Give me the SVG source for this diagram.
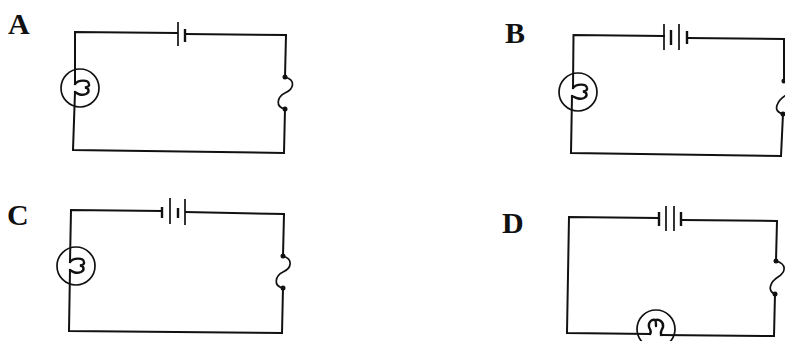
<svg xmlns="http://www.w3.org/2000/svg" width="785" height="341" viewBox="0 0 785 341">
<style>
.w{fill:none;stroke:#111;stroke-width:2;stroke-linecap:square;stroke-linejoin:miter}
.p{fill:none;stroke:#111;stroke-width:1.7}
.t{fill:none;stroke:#111;stroke-width:2.4}
.f{fill:none;stroke:#111;stroke-width:2.4;stroke-linecap:round}
.d{fill:#111}
.l{font-family:"Liberation Serif",serif;font-weight:bold;font-size:30px;fill:#111}
</style>
<rect width="785" height="341" fill="#fff"/>
<g id="connectors">
<path class="w" d="M177 33L75 32L75 84M75 92L73 150L284 153L285 109M285 77L286 35L186 34"/>
<path class="w" d="M664 36L573.500 35L573 88M572 96L571 153L781 156L783 114M784 81L784 39L688 38"/>
<path class="w" d="M162 211L71 210L70 262M70 270L69 331L282 333L283 288M283 256L284 214L186 212"/>
<path class="w" d="M658 218L569 217L567 333L650 334M661 335L774 336L775 294M776 261L777 221L683 220"/>
</g>
<g id="A">
<text class="l" x="8" y="34">A</text>
<g id="A-battery"><path class="p" d="M178 22V46"/><path class="t" d="M185 29V42"/></g>
<g id="A-lamp"><circle class="p" cx="80" cy="88" r="19"/><path class="f" d="M75 84C78 80 88 79 89 84C89.500 86 88 87 85 87.500C89 88 90 92 86 94C81 96 78 94 75 92"/></g>
<g id="A-fuse"><circle class="d" cx="285" cy="77" r="2.500"/><circle class="d" cx="285" cy="109" r="2.500"/><path class="p" d="M285 77C296 80 294 89 285 93C277 97 275 107 285 109"/></g>
</g>
<g id="B">
<text class="l" x="505" y="43">B</text>
<g id="B-battery"><path class="p" d="M664 24V50M679 24V50"/><path class="t" d="M671 30V45M687 31V44"/></g>
<g id="B-lamp"><circle class="p" cx="578" cy="92" r="19"/><path class="f" d="M573 88C576 84 586 83 587 88C587.500 90 586 91 583 91.500C587 92 588 96 584 98C579 100 576 98 572 96"/></g>
<g id="B-fuse"><circle class="d" cx="784" cy="81" r="2.500"/><circle class="d" cx="783" cy="114" r="2.500"/><path class="p" d="M786 95C778 100 771 111 783 114"/></g>
</g>
<g id="C">
<text class="l" x="7" y="225">C</text>
<g id="C-battery"><path class="p" d="M170 198V224M185 199V225"/><path class="t" d="M162 207V218M178 208V218"/></g>
<g id="C-lamp"><circle class="p" cx="76" cy="266" r="19"/><path class="f" d="M70 262C73 258 83 257 84 262C84.500 264 83 265 80 265.500C84 266 85 270 81 272C76 274 73 272 70 270"/></g>
<g id="C-fuse"><circle class="d" cx="283" cy="256" r="2.500"/><circle class="d" cx="283" cy="288" r="2.500"/><path class="p" d="M283 256C293 259 292 268 283 272C275 276 273 286 283 288"/></g>
</g>
<g id="D">
<text class="l" x="502" y="233">D</text>
<g id="D-battery"><path class="p" d="M666 206V231M674 206V231"/><path class="t" d="M659 212V226M681 212V226"/></g>
<g id="D-lamp"><circle class="p" cx="656" cy="329" r="19"/><path class="f" d="M650 334C652 331 650 330 649 327C648 322 652 319 655 320C656 321 656 322 656 326M656 320C659 319 664 322 663 327C662 330 660 331 661 335"/></g>
<g id="D-fuse"><circle class="d" cx="776" cy="261" r="2.500"/><circle class="d" cx="775" cy="294" r="2.500"/><path class="p" d="M776 261C787 264 786 272 778 277C770 282 767 291 775 294"/></g>
</g>
</svg>
